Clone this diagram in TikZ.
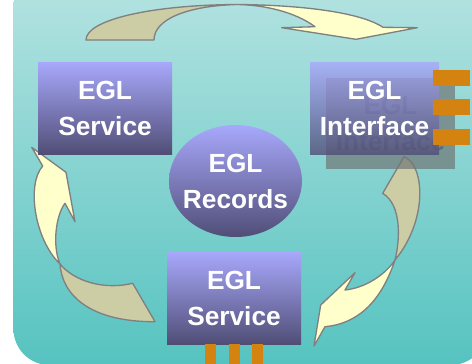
\documentclass[tikz,border=0pt]{standalone}
\usepackage{fontspec}
\setmainfont{Liberation Sans}
\usetikzlibrary{shapes.geometric}
\definecolor{bgtop}{RGB}{183,228,226}
\definecolor{bgbot}{RGB}{86,195,192}
\definecolor{boxtop}{RGB}{168,168,252}
\definecolor{boxbot}{RGB}{80,78,118}
\definecolor{khaki}{RGB}{205,205,165}
\definecolor{pale}{RGB}{255,255,204}
\definecolor{edge}{RGB}{128,128,128}
\definecolor{tab}{RGB}{212,130,16}
\definecolor{shadowgray}{RGB}{112,118,118}
\definecolor{ghost}{RGB}{92,96,108}
\tikzset{
  egltext/.style={font=\fontsize{19.7}{27}\selectfont\bfseries, align=center, text=white, inner sep=0pt},
  eglbox/.style={egltext, rectangle, shade, top color=boxtop, bottom color=boxbot},
  backpart/.style={fill=khaki, draw=edge, line width=1pt, line join=round},
  frontpart/.style={fill=pale, draw=edge, line width=1pt, line join=round},
  tabbar/.style={fill=tab},
}
\begin{document}
\begin{tikzpicture}[x=0.75pt, y=-0.75pt]
\useasboundingbox (0,0) rectangle (472,364);
\fill[white] (0,0) rectangle (472,364);
% background panel
\shade[top color=bgtop, bottom color=bgbot, rounded corners=27pt] (13.5,-30) rectangle (487,365);

% top arrow
\path[backpart] (86,40) -- (154,40) .. controls (154,20) and (185,6) .. (237,4.5)
  .. controls (150,5) and (86,20) .. (86,40) -- cycle;
\path[frontpart] (237,4.5) .. controls (300,5) and (360,12) .. (383,27.3) -- (417.3,27.7) -- (356,39.3)
  -- (281.7,27.7) -- (315,26.7) .. controls (295,12) and (265,5) .. (237,4.5) -- cycle;

% left arrow
\path[frontpart] (31.7,147.3) -- (66,172.3) -- (75,221.7) -- (65,203.3)
  .. controls (56,215) and (52,245) .. (60,264)
  .. controls (35,240) and (26,185) .. (42.7,166) -- cycle;
\path[backpart] (60,264) .. controls (62,295) and (90,322) .. (155,321.7) -- (132.7,283.3)
  .. controls (105,290) and (75,282) .. (60,264) -- cycle;

% right arrow
\path[backpart] (404,156.7) .. controls (425,165) and (428,220) .. (395,260)
  .. controls (400,240) and (402,205) .. (382.7,193.3) -- cycle;
\path[frontpart] (395,260) .. controls (380,305) and (355,324) .. (325,326.7) -- (314,346)
  -- (320.7,305) -- (355,272.7) -- (345,290) .. controls (365,288) and (385,275) .. (395,260) -- cycle;

% boxes
\node[eglbox, minimum width=100.5pt, minimum height=69pt] (svcleft) at (105,108) {EGL\\Service};
\node[ellipse, inner sep=0pt, shade, top color=boxtop, bottom color=boxbot,
  minimum width=99.75pt, minimum height=84pt] (records) at (235.5,181) {};
\node[egltext] (recordstext) at (records.center) {EGL\\Records};
\node[eglbox, minimum width=100.5pt, minimum height=69pt] (svcbottom) at (234,298) {EGL\\Service};

% interface shadow and front
\node[egltext, rectangle, fill=shadowgray, fill opacity=0.7, text=ghost, text opacity=0.8,
  minimum width=96.75pt, minimum height=68.25pt] (ifshadow) at (390.5,123.5) {EGL\\Interface};
\node[eglbox, fill opacity=0.8, text opacity=1, minimum width=96.75pt, minimum height=69pt] (iface) at (374.5,108) {EGL\\Interface};

% orange tabs
\fill[tabbar] (433,70) rectangle (470,86);
\fill[tabbar] (433,99) rectangle (470,115);
\fill[tabbar] (433,129) rectangle (470,145);
\fill[tabbar] (205,344) rectangle (216,364);
\fill[tabbar] (229,344) rectangle (240,364);
\fill[tabbar] (252,344) rectangle (263,364);
\end{tikzpicture}
\end{document}
